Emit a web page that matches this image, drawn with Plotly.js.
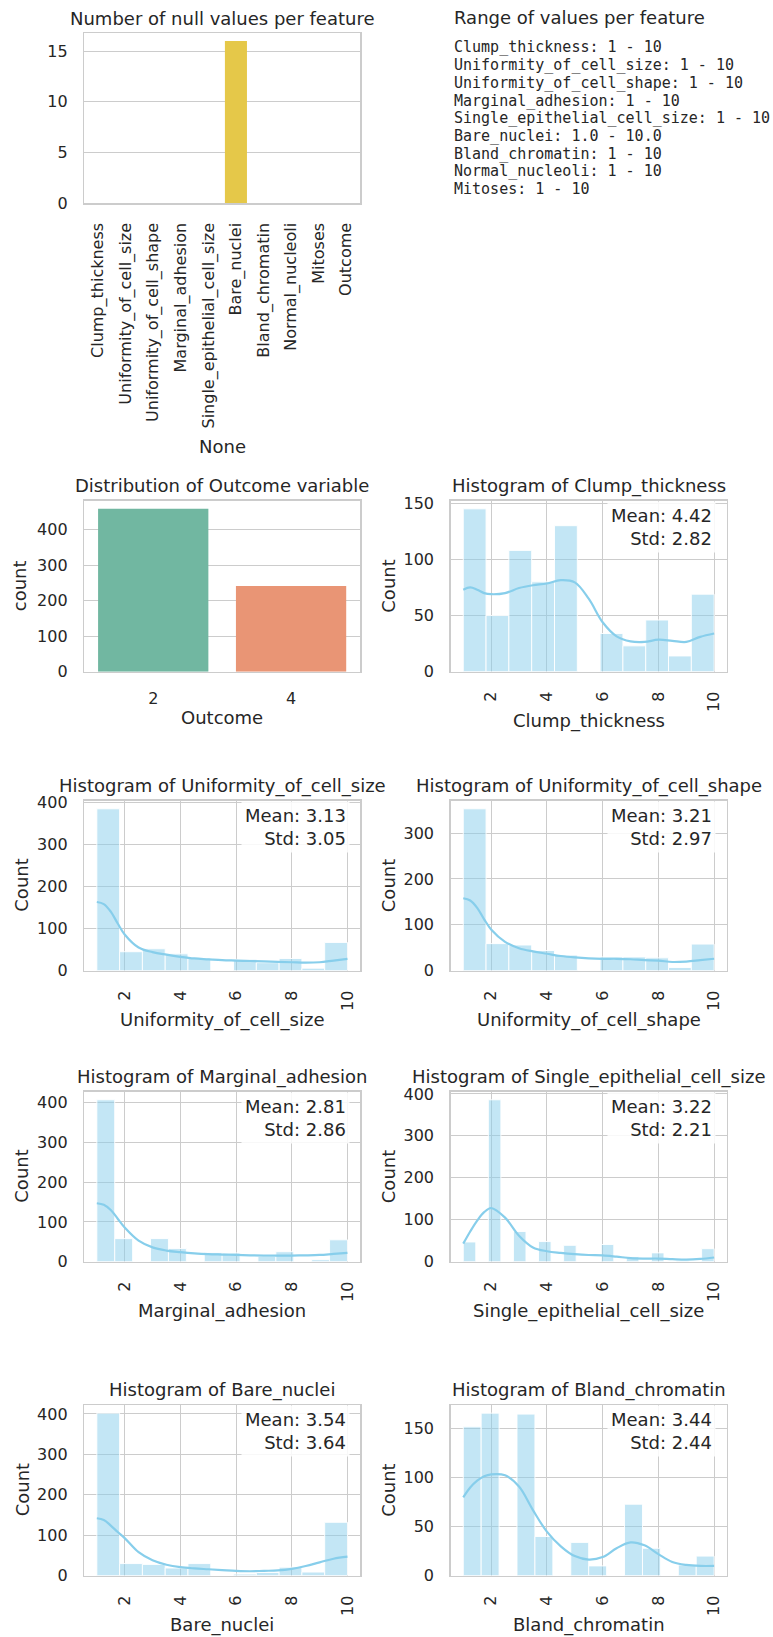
<!DOCTYPE html>
<html><head><meta charset="utf-8">
<script src="https://cdn.plot.ly/plotly-3.0.1.min.js"></script>
<style>html,body{margin:0;padding:0;background:#fff}</style>
</head><body><div id="chart" style="width:773px;height:1637px"></div>
<script>
// ---------- data ----------
const features = ['Clump_thickness','Uniformity_of_cell_size','Uniformity_of_cell_shape','Marginal_adhesion','Single_epithelial_cell_size','Bare_nuclei','Bland_chromatin','Normal_nucleoli','Mitoses','Outcome'];
const nullCounts = [0,0,0,0,0,16,0,0,0,0];
const rangeLines = ['Clump_thickness: 1 - 10','Uniformity_of_cell_size: 1 - 10','Uniformity_of_cell_shape: 1 - 10','Marginal_adhesion: 1 - 10','Single_epithelial_cell_size: 1 - 10','Bare_nuclei: 1.0 - 10.0','Bland_chromatin: 1 - 10','Normal_nucleoli: 1 - 10','Mitoses: 1 - 10'];
const outcomeClasses = ['2','4'];
const outcomeCounts = [458,241];

const values = [1,2,3,4,5,6,7,8,9,10];
const histFeatures = ['Clump_thickness','Uniformity_of_cell_size','Uniformity_of_cell_shape','Marginal_adhesion','Single_epithelial_cell_size','Bare_nuclei','Bland_chromatin'];
const clumpCounts    = [145,50,108,80,130,34,23,46,14,69];
const sizeCounts     = [384,45,52,40,30,27,19,29,6,67];
const shapeCounts    = [353,59,56,44,34,30,30,28,7,58];
const marginalCounts = [407,58,58,33,23,22,13,25,5,55];
const singleCounts   = [47,386,72,48,39,41,12,21,2,31];
const bareCounts     = [402,30,28,19,30,4,8,21,9,132];
const blandCounts    = [152,166,165,40,34,10,73,28,11,20];
const histBins = [11,11,11,14,20,11,14];
const means = ['4.42','3.13','3.21','2.81','3.22','3.54','3.44'];
const stds  = ['2.82','3.05','2.97','2.86','2.21','3.64','2.44'];

const kdeX = [1,1.25,1.5,1.75,2,2.5,3,3.5,4,4.5,5,5.5,6,6.5,7,7.5,8,8.5,9,9.5,10];
const clumpKde    = [73,75,73,70,69,70,74.5,77,78.5,81.5,79.5,65,44,31.5,27,26.5,28.5,27.5,26.5,31,34];
const sizeKde     = [163,158,140,112,86,55,44,38,33,29,27,25,24,23,22,21,20,19,20,24,28];
const shapeKde    = [158,153,137,112,90,63,49,42,37,32,29,27,26,26,25,23,22,19,20,23,26];
const marginalKde = [147,143,130,108,86,53,36,28,24,21,19,18,17,16,15.5,15.5,15.5,16,17,19.5,22];
const singleKde   = [43,72,98,118,128,105,62,34,25,21,18,16,15,12,8.5,7.5,7.5,6,5,6.5,10];
const bareKde     = [142,138,124,108,93,58,38,27,21,18,16,14,12,11,12,13,17,24,33,42,47];
const blandKde    = [80,90,97,101.5,103.5,102.5,91,67,45,30,20,16.5,19,28,34,31,22,14,11,10,10];

const histCounts = [clumpCounts,sizeCounts,shapeCounts,marginalCounts,singleCounts,bareCounts,blandCounts];
const histKdes = [clumpKde,sizeKde,shapeKde,marginalKde,singleKde,bareKde,blandKde];

// ---------- layout geometry (pixels) ----------
const W = 773, H = 1637;
const fx = px => px / W;
const fy = py => 1 - py / H;
const L0 = 84.3, L1 = 360, R0 = 450.7, R1 = 726.7;
const boxNull = [L0, L1, 33, 203];
const boxOutcome = [L0, L1, 500.7, 671.7];
const histBoxes = [
  [R0, R1, 500.7, 671.7],
  [L0, L1, 800.7, 970.7],
  [R0, R1, 800.7, 970.7],
  [L0, L1, 1091.7, 1261.7],
  [R0, R1, 1091.7, 1261.7],
  [L0, L1, 1405, 1575.7],
  [R0, R1, 1405, 1575.7]
];
const histDticks = [50,100,100,100,100,100,50];

const TXT = '#262626';
const TICK = 16, TITLE = 18;
const FONT = 'DejaVu Sans, sans-serif';

const layout = {
  width: W, height: H,
  margin: {l:0, r:0, t:0, b:0},
  paper_bgcolor: 'white', plot_bgcolor: 'white',
  showlegend: false,
  font: {family: FONT, color: TXT, size: TICK},
  annotations: []
};
const traces = [];

function axisNames(i){ return i===1 ? ['xaxis','yaxis','x','y'] : ['xaxis'+i,'yaxis'+i,'x'+i,'y'+i]; }
function setAxes(i, box, xo, yo){
  const [xn, yn, xr, yr] = axisNames(i);
  const base = {showline:true, mirror:true, linecolor:'#cccccc', linewidth:1.5, zeroline:false,
    gridcolor:'#cccccc', gridwidth:1, ticks:'', tickfont:{family:FONT, size:TICK, color:TXT},
    ticklabelstandoff: 12, fixedrange:true, automargin:false};
  layout[xn] = Object.assign({}, base, {domain:[fx(box[0]), fx(box[1])], anchor: yr}, xo);
  layout[yn] = Object.assign({}, base, {domain:[fy(box[3]), fy(box[2])], anchor: xr}, yo);
}
function addTitle(box, text){
  layout.annotations.push({xref:'paper', yref:'paper', x: fx((box[0]+box[1])/2), y: fy(box[2]-15),
    text, showarrow:false, xanchor:'center', yanchor:'middle', font:{family:FONT, size:TITLE, color:TXT}});
}
function addXTitle(box, text, off){
  layout.annotations.push({xref:'paper', yref:'paper', x: fx((box[0]+box[1])/2), y: fy(box[3]+off),
    text, showarrow:false, xanchor:'center', yanchor:'middle', font:{family:FONT, size:TITLE, color:TXT}});
}
function addYTitle(box, text, cx){
  layout.annotations.push({xref:'paper', yref:'paper', x: fx(cx), y: fy((box[2]+box[3])/2),
    text, textangle:-90, showarrow:false, xanchor:'center', yanchor:'middle', font:{family:FONT, size:TITLE, color:TXT}});
}

// ---------- panel 1: null values ----------
const set2Desat = ['#71b7a1','#e99575','#97a1c3','#d596bd','#a4c66a','#e5c849','#d9c39e','#b3b3b3','#71b7a1','#e99575'];
traces.push({type:'bar', x: features, y: nullCounts, xaxis:'x', yaxis:'y', width:0.8,
  marker:{color:set2Desat}, hoverinfo:'skip'});
setAxes(1, boxNull,
  {type:'category', range:[-0.5, features.length-0.5], showgrid:false, tickangle:-90},
  {range:[0, Math.max(...nullCounts)*1.05], dtick:5, showgrid:true});
addTitle(boxNull, 'Number of null values per feature');
addXTitle(boxNull, 'None', 243.7);

// ---------- panel 2: text ranges ----------
layout.annotations.push({xref:'paper', yref:'paper', x: fx(451.7), y: fy(17.5), text:'Range of values per feature',
  showarrow:false, xanchor:'left', yanchor:'middle', font:{family:FONT, size:TITLE, color:TXT}});
rangeLines.forEach((t, i) => {
  layout.annotations.push({xref:'paper', yref:'paper', x: fx(451.7), y: fy(47.5 + i*17.7), text: t,
    showarrow:false, xanchor:'left', yanchor:'middle',
    font:{family:'DejaVu Sans Mono, monospace', size:15, color:TXT}});
});

// ---------- panel 3: outcome ----------
traces.push({type:'bar', x: outcomeClasses, y: outcomeCounts, xaxis:'x2', yaxis:'y2', width:0.8,
  marker:{color:['#71b7a1','#e99575']}, hoverinfo:'skip'});
setAxes(2, boxOutcome,
  {type:'category', range:[-0.5, 1.5], showgrid:false},
  {range:[0, Math.max(...outcomeCounts)*1.05], dtick:100, showgrid:true});
addTitle(boxOutcome, 'Distribution of Outcome variable');
addXTitle(boxOutcome, 'Outcome', 46);
addYTitle(boxOutcome, 'count', 19);

// ---------- histograms ----------
histFeatures.forEach((name, k) => {
  const idx = k + 3;
  const [, , xr, yr] = axisNames(idx);
  const box = histBoxes[k];
  const nb = histBins[k];
  const lo = Math.min(...values), hi = Math.max(...values);
  const w = (hi - lo) / nb;
  const binY = new Array(nb).fill(0);
  values.forEach((v, j) => {
    const b = Math.min(nb - 1, Math.floor((v - lo) / w + 1e-9));
    binY[b] += histCounts[k][j];
  });
  const bx = [], by = [];
  binY.forEach((c, b) => { if (c > 0) { bx.push(lo + (b + 0.5) * w); by.push(c); } });
  traces.push({type:'bar', x: bx, y: by, width: w, xaxis: xr, yaxis: yr,
    marker:{color:'rgba(135,206,235,0.5)', line:{color:'rgba(255,255,255,0.9)', width:1}}, hoverinfo:'skip'});
  traces.push({type:'scatter', mode:'lines', x: kdeX, y: histKdes[k], xaxis: xr, yaxis: yr,
    line:{color:'#87ceeb', width:2.2, shape:'spline', smoothing:1}, hoverinfo:'skip'});
  const pad = (hi - lo) * 0.05;
  setAxes(idx, box,
    {range:[lo - pad, hi + pad], tickvals:[2,4,6,8,10], tickangle:-90, showgrid:true},
    {range:[0, Math.max(...histCounts[k]) * 1.05], dtick: histDticks[k], showgrid:true});
  addTitle(box, 'Histogram of ' + name);
  addXTitle(box, name, 49);
  addYTitle(box, 'Count', box[0] < 200 ? 22 : 388.5);
  layout.annotations.push({xref: xr + ' domain', yref: yr + ' domain', x: 0.962, y: 1.0,
    xanchor:'right', yanchor:'top', align:'right', showarrow:false,
    text: 'Mean: ' + means[k] + '<br>Std: ' + stds[k],
    bgcolor:'rgba(255,255,255,0.85)', borderpad:3,
    font:{family:FONT, size:TITLE, color:TXT}});
});

Plotly.newPlot('chart', traces, layout, {staticPlot:true, displayModeBar:false});
</script>
</body></html>
